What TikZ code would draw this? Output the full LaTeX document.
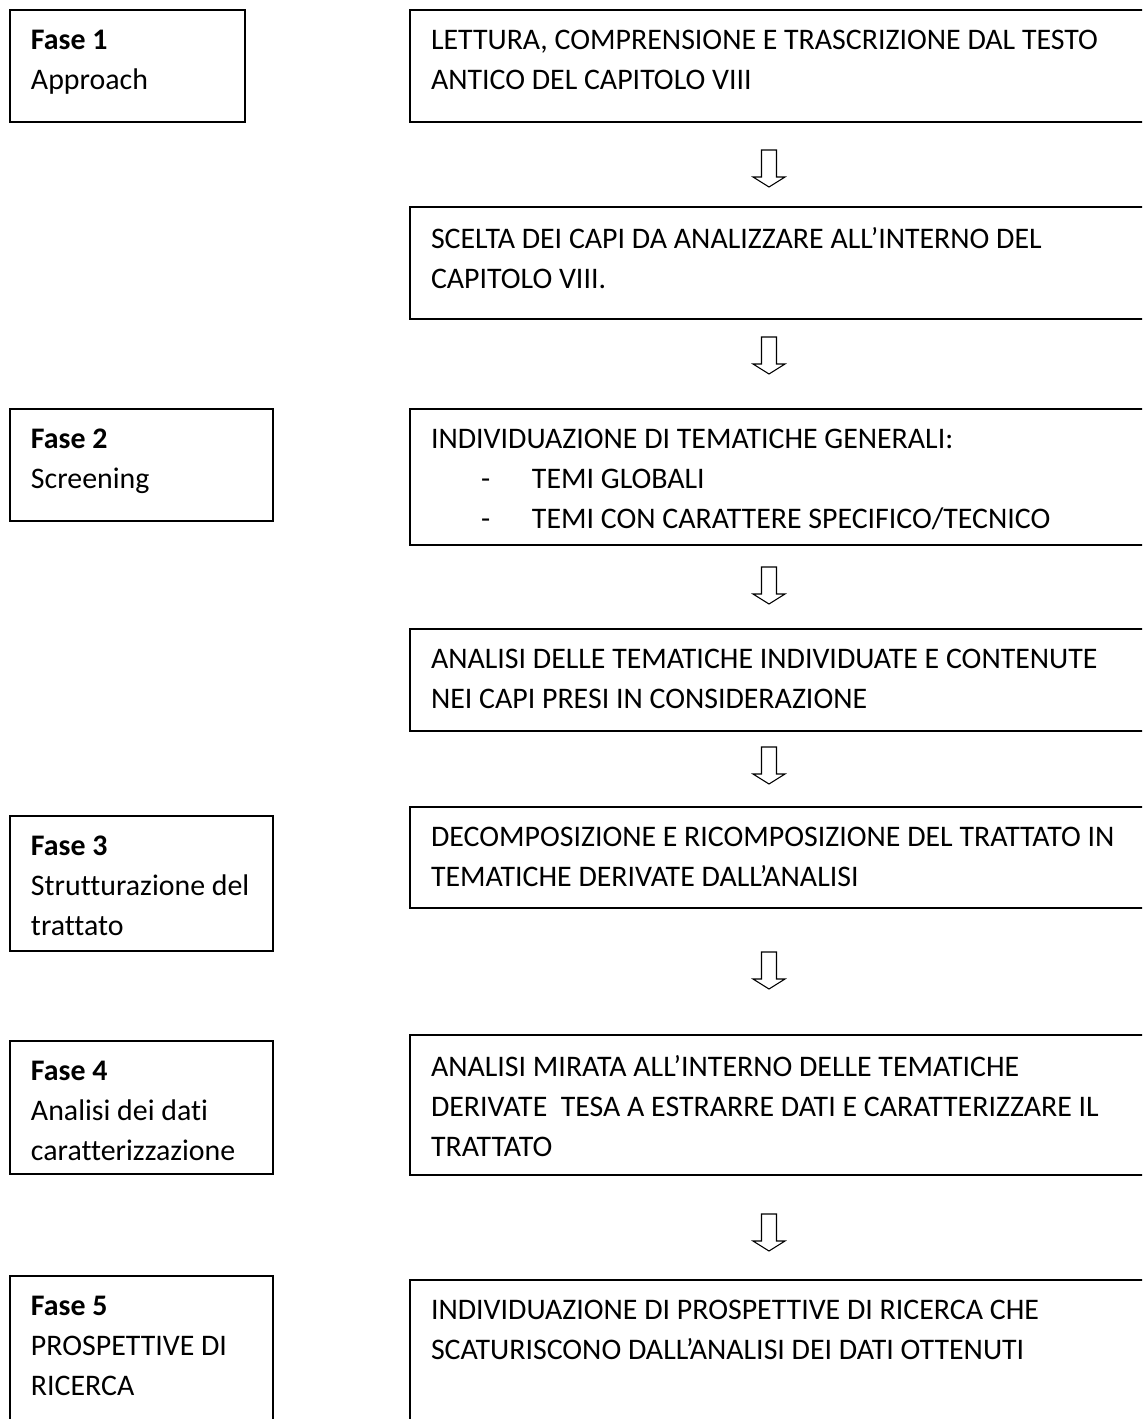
\documentclass[tikz,border=0pt]{standalone}
\usepackage{fontspec}
\setmainfont{Carlito}[Ligatures={NoCommon}]
\def\px{0.75pt}
\tikzset{
  box/.style={draw, line width=1.3pt, rectangle, inner sep=0pt, outer sep=0pt, anchor=north west},
  txt/.style={inner sep=0pt, outer sep=0pt, anchor=north west, align=left,
    font=\fontsize{22.4}{30}\selectfont, execute at begin node=\strut},
  downarrow/.pic={\draw[line width=0.8pt, line join=miter, fill=white]
    (-7.5,0) -- (7.5,0) -- (7.5,27) -- (16,27) -- (0,37) -- (-16,27) -- (-7.5,27) -- cycle;}
}
\begin{document}
\begin{tikzpicture}[x=0.75pt,y=-0.75pt]
\useasboundingbox (0,0) rectangle (1142,1419);
\clip (0,0) rectangle (1142,1419);
\fill[white] (0,0) rectangle (1142,1419);

% left column (phases)
\node[box, minimum width=235*\px, minimum height=112*\px] (f1) at (10,10) {};
\node[box, minimum width=263*\px, minimum height=112*\px] (f2) at (10,409) {};
\node[box, minimum width=263*\px, minimum height=135*\px] (f3) at (10,816) {};
\node[box, minimum width=263*\px, minimum height=133*\px] (f4) at (10,1041) {};
\node[box, minimum width=263*\px, minimum height=200*\px] (f5) at (10,1276) {};

% right column (steps)
\node[box, minimum width=760*\px, minimum height=112*\px] (r1) at (410,10) {};
\node[box, minimum width=760*\px, minimum height=112*\px] (r2) at (410,207) {};
\node[box, minimum width=760*\px, minimum height=136*\px] (r3) at (410,409) {};
\node[box, minimum width=760*\px, minimum height=102*\px] (r4) at (410,629) {};
\node[box, minimum width=760*\px, minimum height=101*\px] (r5) at (410,807) {};
\node[box, minimum width=760*\px, minimum height=140*\px] (r6) at (410,1035) {};
\node[box, minimum width=760*\px, minimum height=200*\px] (r7) at (410,1280) {};

% texts of phases
\node[txt] (tf1) at ([shift={(21,20)}]f1.north west) {\textbf{Fase 1}\\Approach};
\node[txt] (tf2) at ([shift={(21,20)}]f2.north west) {\textbf{Fase 2}\\Screening};
\node[txt] (tf3) at ([shift={(21,20)}]f3.north west) {\textbf{Fase 3}\\Strutturazione del\\trattato};
\node[txt] (tf4) at ([shift={(21,20)}]f4.north west) {\textbf{Fase 4}\\Analisi dei dati\\caratterizzazione};
\node[txt] (tf5) at ([shift={(21,20)}]f5.north west) {\textbf{Fase 5}\\PROSPETTIVE DI\\RICERCA};

% texts of steps
\node[txt] (tr1) at ([shift={(21,20)}]r1.north west) {LETTURA, COMPRENSIONE E TRASCRIZIONE DAL TESTO\\ANTICO DEL CAPITOLO VIII};
\node[txt] (tr2) at ([shift={(21,20)}]r2.north west) {SCELTA DEI CAPI DA ANALIZZARE ALL’INTERNO DEL\\CAPITOLO VIII.};
\node[txt] (tr3) at ([shift={(21,20)}]r3.north west) {INDIVIDUAZIONE DI TEMATICHE GENERALI:\\
  \hspace*{37.5pt}\makebox[38.25pt][l]{-}TEMI GLOBALI\\
  \hspace*{37.5pt}\makebox[38.25pt][l]{-}TEMI CON CARATTERE SPECIFICO/TECNICO};
\node[txt] (tr4) at ([shift={(21,20)}]r4.north west) {ANALISI DELLE TEMATICHE INDIVIDUATE E CONTENUTE\\NEI CAPI PRESI IN CONSIDERAZIONE};
\node[txt] (tr5) at ([shift={(21,20)}]r5.north west) {DECOMPOSIZIONE E RICOMPOSIZIONE DEL TRATTATO IN\\TEMATICHE DERIVATE DALL’ANALISI};
\node[txt] (tr6) at ([shift={(21,20)}]r6.north west) {ANALISI MIRATA ALL’INTERNO DELLE TEMATICHE\\DERIVATE\ \ TESA A ESTRARRE DATI E CARATTERIZZARE IL\\TRATTATO};
\node[txt] (tr7) at ([shift={(21,20)}]r7.north west) {INDIVIDUAZIONE DI PROSPETTIVE DI RICERCA CHE\\SCATURISCONO DALL’ANALISI DEI DATI OTTENUTI};

% hollow block arrows between steps
\pic at (769,150) {downarrow};
\pic at (769,337) {downarrow};
\pic at (769,567) {downarrow};
\pic at (769,747) {downarrow};
\pic at (769,952) {downarrow};
\pic at (769,1214) {downarrow};
\end{tikzpicture}
\end{document}
